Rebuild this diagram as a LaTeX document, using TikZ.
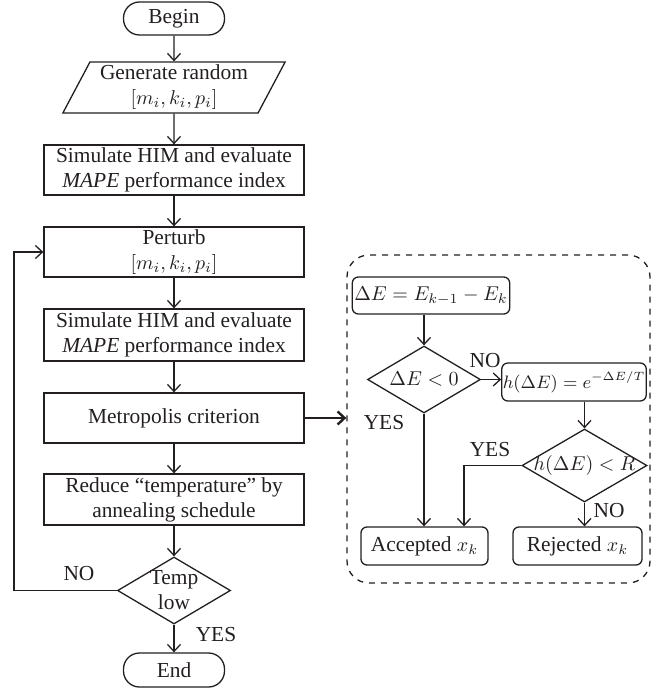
\documentclass[tikz,border=0pt]{standalone}
\usepackage{fontspec}
\setmainfont{Liberation Serif}
\usepackage{tikz}
\usetikzlibrary{arrows.meta,positioning,calc,shapes.geometric}
\definecolor{SaInk}{RGB}{35,31,32}
\newcommand{\flowmath}[1]{{\fontsize{9.7}{12.5}\selectfont$#1$}}
\tikzset{
  sa/proc/.style={
    draw=SaInk,
    line width=0.65pt,
    align=center,
    text=SaInk,
    minimum width=130pt,
    minimum height=25pt,
    inner sep=1pt
  },
  sa/term/.style={
    draw=SaInk,
    line width=0.65pt,
    rounded corners=8pt,
    text=SaInk,
    minimum width=50.5pt,
    minimum height=16.5pt
  },
  sa/io/.style={
    trapezium,
    trapezium left angle=62,
    trapezium right angle=118,
    draw=SaInk,
    line width=0.65pt,
    align=center,
    text=SaInk,
    minimum width=107pt,
    minimum height=25.5pt,
    inner sep=0pt
  },
  sa/small/.style={
    draw=SaInk,
    line width=0.65pt,
    rounded corners=3pt,
    text=SaInk,
    minimum height=19pt,
    inner xsep=1pt,
    inner ysep=1pt
  },
  sa/decision/.style={
    diamond,
    draw=SaInk,
    line width=0.65pt,
    inner sep=0pt
  },
  sa/arrow/.style={-{Straight Barb[length=3.5pt,width=6.5pt]}, line width=0.65pt, draw=SaInk},
  sa/thickarrow/.style={-{Straight Barb[length=3.5pt,width=6.5pt]}, line width=1.2pt, draw=SaInk},
  sa/tag/.style={text=SaInk, inner sep=0pt}
}
\begin{document}
\begin{tikzpicture}[x=0.5pt,y=-0.5pt,font=\fontsize{10.7}{12.5}\selectfont]
  \useasboundingbox (0,0) rectangle (655,689);
  % main loop
  \node[sa/term] (begin) at (174,18.5) {Begin};
  \node[sa/io] (gen) at (174,87.5) {Generate random\\\flowmath{[m_i, k_i, p_i]}};
  \node[sa/proc] (sim1) at (174,170) {Simulate HIM and evaluate\\\textit{MAPE} performance index};
  \node[sa/proc] (perturb) at (174,252) {Perturb\\\flowmath{[m_i, k_i, p_i]}};
  \node[sa/proc,minimum height=26pt] (sim2) at (174,335) {Simulate HIM and evaluate\\\textit{MAPE} performance index};
  \node[sa/proc] (metro) at (174,418) {Metropolis criterion};
  \node[sa/proc,minimum height=25.5pt] (reduce) at (174,499.5) {Reduce “temperature” by\\annealing schedule};
  \node[sa/decision,minimum width=56.5pt,minimum height=33.5pt,
        label={[align=center,text=SaInk,inner sep=0pt]center:Temp\\low}] (temp) at (174,590.5) {};
  \node[sa/term,minimum height=17pt] (end) at (174,670) {End};

  \draw[sa/arrow] (begin) -- (gen);
  \draw[sa/arrow] (gen) -- (sim1);
  \draw[sa/arrow] (sim1) -- (perturb);
  \draw[sa/arrow] (perturb) -- (sim2);
  \draw[sa/arrow] (sim2) -- (metro);
  \draw[sa/arrow] (metro) -- (reduce);
  \draw[sa/arrow] (reduce) -- (temp);
  \draw[sa/arrow] (temp) -- (end);
  \draw[sa/arrow] (temp.west) -- ++(-103,0) |- (perturb.west);
  \node[sa/tag] (no1) at (79,574) {NO};
  \node[sa/tag] (yes1) at (216,635) {YES};

  % Metropolis criterion detail
  \node[draw=SaInk,line width=0.65pt,dashed,rounded corners=11pt,
        minimum width=151.5pt,minimum height=164pt] (crit) at (498.5,419) {};
  \draw[sa/thickarrow] (metro.east) -- (metro.east -| crit.west);

  \node[sa/small,minimum width=74pt,minimum height=18.5pt] (dE) at (431,295.5) {\flowmath{\Delta E = E_{k-1} - E_k}};
  \node[sa/decision,minimum width=56.5pt,minimum height=33.5pt,
        label={[text=SaInk]center:\flowmath{\Delta E < 0}}] (dlt) at (424,379.5) {};
  \node[sa/small,minimum width=72pt,inner xsep=0.5pt] (hbox) at (574,382) {{\fontsize{9.2}{12}\selectfont$h(\Delta E) = e^{-\Delta E/T}$}};
  \node[sa/decision,minimum width=62.5pt,minimum height=36.5pt,
        label={[text=SaInk]center:\flowmath{h(\Delta E) < R}}] (hR) at (584.5,465.5) {};
  \node[sa/small,minimum width=63.5pt] (acc) at (424.5,546) {Accepted \flowmath{x_k}};
  \node[sa/small,minimum width=64.5pt] (rej) at (577.5,546) {Rejected \flowmath{x_k}};

  \draw[sa/arrow] (dE.south -| dlt.north) -- (dlt.north);
  \draw[sa/arrow] (dlt.east) -- (dlt.east -| hbox.west);
  \draw[sa/arrow] (hbox.south -| hR.north) -- (hR.north);
  \draw[sa/arrow] (dlt.south) -- (dlt.south |- acc.north);
  \draw[sa/arrow] (hR.west) -| ($(acc.north)+(39.5,0)$);
  \draw[sa/arrow] (hR.south) -- (hR.south |- rej.north);
  \node[sa/tag] (no2) at (485,361) {NO};
  \node[sa/tag] (yes2) at (384,423) {YES};
  \node[sa/tag] (yes3) at (490,450) {YES};
  \node[sa/tag] (no3) at (609,511) {NO};
\end{tikzpicture}
\end{document}
